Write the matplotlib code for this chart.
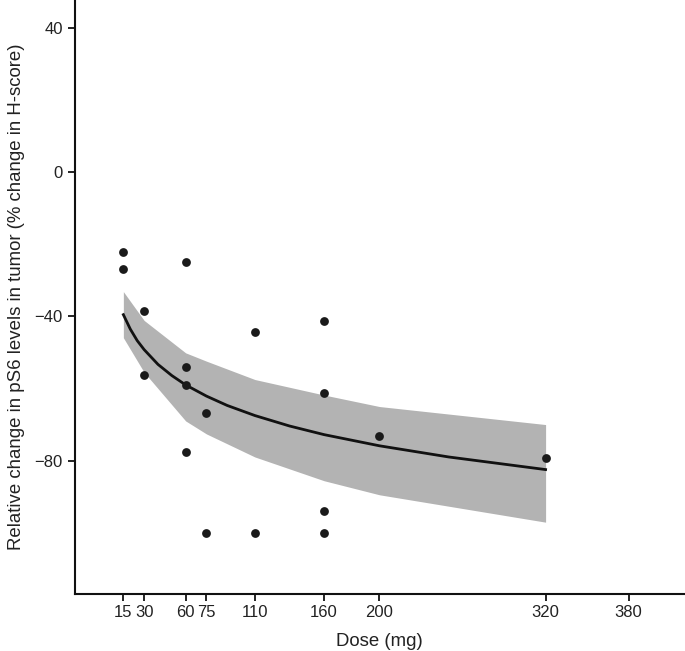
import numpy as np
import matplotlib
matplotlib.use("Agg")
import matplotlib.pyplot as plt

plt.rcParams['font.family'] = ['Liberation Sans', 'DejaVu Sans']

# observed data (dose mg, % change in H-score)
dose = [15, 15, 30, 30, 60, 60, 60, 60, 75, 75, 110, 110, 160, 160, 160, 160, 200, 320]
change = [-22.1, -26.9, -38.4, -56.2, -25.0, -53.9, -58.9, -77.6, -66.7, -100.0,
          -44.3, -100.0, -41.2, -61.2, -94.1, -100.0, -73.2, -79.2]

# fitted curve
fit_dose = [15, 20, 25, 30, 40, 50, 60, 75, 90, 110, 135, 160, 200, 250, 320]
fit_val = [-39.5, -43.5, -46.7, -49.2, -53.3, -56.4, -59.0, -62.1, -64.7, -67.5,
           -70.4, -72.8, -75.9, -79.0, -82.5]

# confidence band
band_dose = [15, 30, 60, 75, 110, 160, 200, 320]
band_hi = [-33.1, -41.1, -50.1, -52.4, -57.5, -61.8, -65.0, -70.0]
band_lo = [-45.9, -55.5, -69.0, -72.6, -79.0, -85.6, -89.5, -97.1]

xticks = [15, 30, 60, 75, 110, 160, 200, 320, 380]
yticks = [40, 0, -40, -80]

fig = plt.figure(figsize=(6.85, 6.51), dpi=100)
ax = fig.add_axes([74.5 / 685, 57.5 / 651, 1 - 74.5 / 685, 1 - 57.5 / 651])

ax.fill_between(band_dose, band_lo, band_hi, color="#b3b3b3", lw=0, zorder=1)
ax.plot(fit_dose, fit_val, color="#111111", lw=2, zorder=2)
ax.scatter(dose, change, s=40, color="#1a1a1a", zorder=3, linewidths=0)

ax.set_xlim(-20.3, 420.7)
ax.set_ylim(-116.9, 47.85)
ax.set_xticks(xticks)
ax.set_xticklabels([str(t) for t in xticks])
ax.set_yticks(yticks)

for s in ["top", "right"]:
    ax.spines[s].set_visible(False)
for s in ["left", "bottom"]:
    ax.spines[s].set_linewidth(1.5)
    ax.spines[s].set_color("#111111")

ax.tick_params(direction="out", length=5, width=1.3, labelsize=12,
               colors="#111111", labelcolor="#222222")
ax.set_xlabel("Dose (mg)", fontsize=13.4, color="#222222", labelpad=9)
ax.set_ylabel("Relative change in pS6 levels in tumor (% change in H-score)",
              fontsize=13.4, color="#222222", labelpad=7)

fig.savefig("out.png", dpi=100)
